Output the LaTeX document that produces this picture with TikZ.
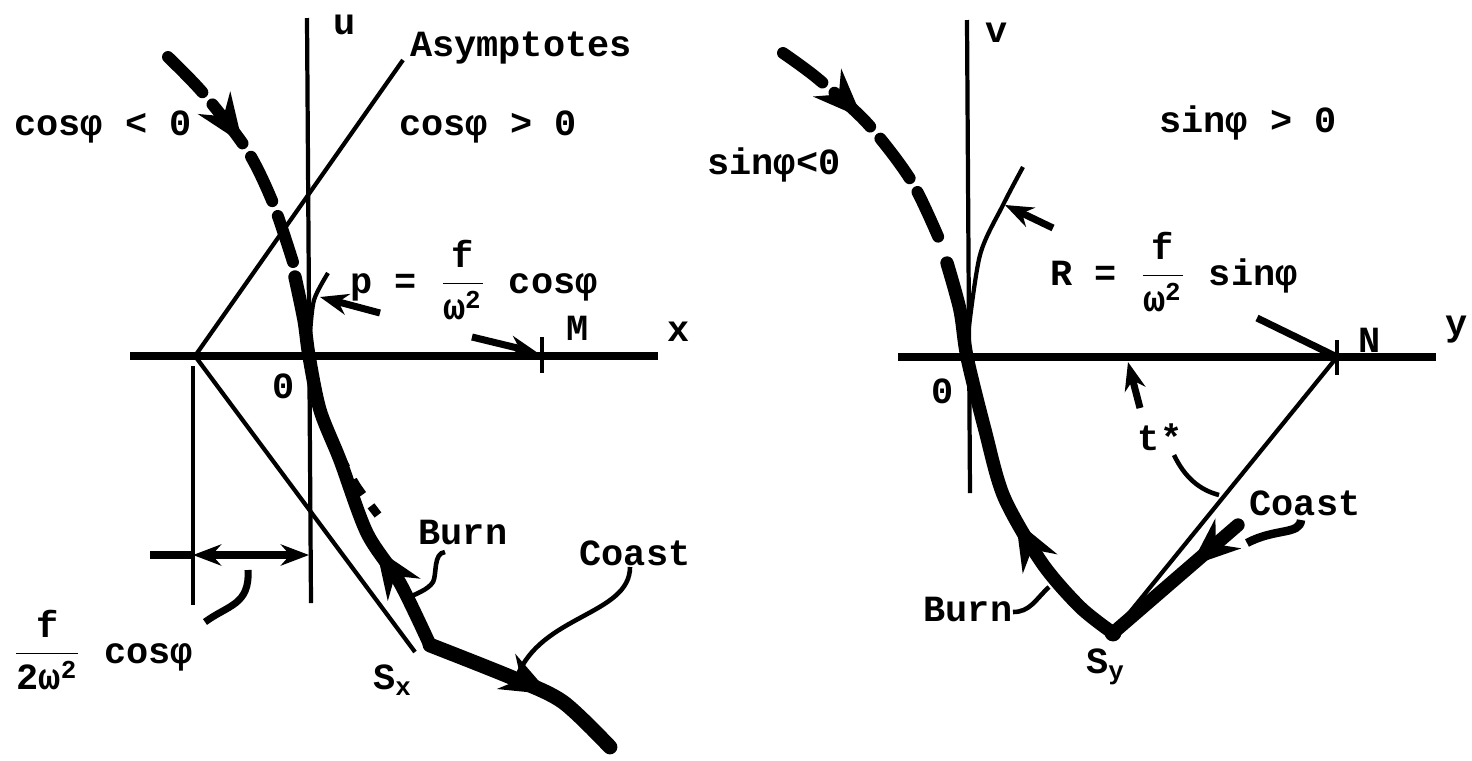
\documentclass[tikz,border=0pt]{standalone}
\usepackage{amsmath,amssymb}
\usepackage{fontspec}
\setmainfont{Liberation Mono}
\usetikzlibrary{arrows.meta,decorations.markings}
\tikzset{
  axis/.style   = {line width=2pt},
  guide/.style  = {line width=1.2pt},
  traj/.style   = {line width=3.8pt, line cap=round},
  dtraj/.style  = {line width=3.4pt, line cap=round, dash pattern=on 14pt off 4.5pt},
  lead/.style   = {line width=1.3pt},
  ptr/.style    = {lead, -{Stealth[length=8pt,width=6pt]}},
  dimarr/.style = {axis, {Stealth[length=8pt,width=6pt]}-{Stealth[length=8pt,width=6pt]}},
  arrowat/.style = {postaction={decorate,decoration={markings,
                    mark=at position #1 with {\arrow{Stealth[length=14pt,width=11pt]}}}}},
  backat/.style  = {postaction={decorate,decoration={markings,
                    mark=at position #1 with {\arrowreversed{Stealth[length=14pt,width=11pt]}}}}},
  lbl/.style    = {font=\bfseries\fontsize{10.5}{12}\selectfont, inner sep=1pt},
}
\newcommand{\phib}{φ}
\newcommand{\omb}{\text{ω}}

\begin{document}
\begin{tikzpicture}[x=0.01cm,y=-0.01cm]
  \useasboundingbox (0,0) rectangle (1472,760);
  % ---- left panel: u against x
  \coordinate (Ox)  at (309,356);
  \coordinate (Ax)  at (195,356);
  \coordinate (Sx)  at (430,645);
  \coordinate (M)   at (542,356);
  \coordinate (Mt)  at (542,337);
  \coordinate (Mb)  at (542,373);
  \coordinate (xL)  at (130,356);
  \coordinate (xR)  at (658,356);
  \coordinate (uT)  at (307,18);
  \coordinate (uB)  at (311,603);
  \coordinate (asU) at (403,60);
  \coordinate (asL) at (415,652);
  \coordinate (dT)  at (193,366);
  \coordinate (dB)  at (193,605);
  \coordinate (d1)  at (150,555);
  \coordinate (d2)  at (193,555);
  \coordinate (d3)  at (309,555);

  \draw[axis] (xL) -- (xR);
  \draw[guide] (uT) -- (uB);
  \draw[guide] (asU) -- (Ax) -- (asL);
  \draw[guide] (dT) -- (dB);
  \draw[guide] (Mt) -- (Mb);
  \draw[axis] (d1) -- (d2);
  \draw[dimarr] (d2) -- (d3);

  % trajectory
  \draw[dtraj,arrowat=0.47] plot[smooth] coordinates {(168,57) (203,93) (247,150) (273,203) (293,262)};
  \draw[traj,backat=0.72] plot[smooth] coordinates {(295,277) (304,320) (Ox) (320,410) (340,460) (367,533) (400,583) (Sx)};
  \draw[traj,line width=4.2pt,arrowat=0.62] plot[smooth] coordinates {(Sx) (513,678) (563,702) (610,747)};
  \draw[guide] plot[smooth] coordinates {(310,335) (314,300) (328,273)};
  \draw[lead,line width=2.4pt,dash pattern=on 5pt off 4pt] plot[smooth] coordinates {(338,452) (356,485) (378,515)};

  % labels
  \node[lbl] (lu)    at (345,25)  {u};
  \node[lbl] (lx)    at (679,332) {x};
  \node[lbl] (lM)    at (578,328) {M};
  \node[lbl] (lOx)   at (284,386) {0};
  \node[lbl] (lasy)  at (521,48)  {Asymptotes};
  \node[lbl] (lneg)  at (103,127) {cos\phib{} < 0};
  \node[lbl] (lpos)  at (488,127) {cos\phib{} > 0};
  \node[lbl,anchor=west] (lp) at (346,280)
    {p = $\dfrac{\textbf{f}}{\omb^{\textbf{2}}}$ cos\phib};
  \node[lbl,anchor=west] (lhalf) at (8,650)
    {$\dfrac{\textbf{f}}{\textbf{2}\omb^{\textbf{2}}}$ cos\phib};
  \node[lbl] (lburn)  at (463,533) {Burn};
  \node[lbl] (lcoast) at (635,553) {Coast};
  \node[lbl] (lSx)    at (393,680) {S$_{\textbf{x}}$};

  % leaders
  \coordinate (pT) at (380,313);  \coordinate (pH) at (320,297);
  \coordinate (mT) at (472,337);  \coordinate (mH) at (538,353);
  \draw[ptr,line width=2pt] (pT) -- (pH);
  \draw[ptr,line width=2pt] (mT) -- (mH);
  \draw[lead,line width=2pt] (248,570) .. controls (250,605) and (228,605) .. (205,622);
  \draw[lead] (445,552) .. controls (433,553) and (437,575) .. (433,582)
                        .. controls (428,590) and (415,594) .. (408,598);
  \draw[lead] (630,567) .. controls (630,615) and (540,615) .. (517,677);

  % ---- right panel: v against y
  \coordinate (Oy)  at (967,357);
  \coordinate (Sy)  at (1113,633);
  \coordinate (N)   at (1337,357);
  \coordinate (Nt)  at (1337,340);
  \coordinate (Nb)  at (1337,375);
  \coordinate (yL)  at (898,357);
  \coordinate (yR)  at (1436,357);
  \coordinate (vT)  at (967,20);
  \coordinate (vB)  at (970,493);
  \coordinate (cy)  at (1238,525);

  \draw[axis] (yL) -- (yR);
  \draw[guide] (vT) -- (vB);
  \draw[guide] (Nt) -- (Nb);
  \draw[guide] (N) -- (Sy);

  % trajectory
  \draw[dtraj,arrowat=0.4] plot[smooth] coordinates {(783,53) (817,78) (867,123) (912,182) (943,248)};
  \draw[traj,backat=0.64] plot[smooth] coordinates {(947,263) (960,310) (Oy) (985,430) (1004,497) (1042,563) (1080,607) (Sy)};
  \draw[traj,arrowat=0.38] (cy) -- (Sy);
  \fill (Sy) circle (2.4pt);
  \draw[guide] plot[smooth] coordinates {(968,335) (980,255) (1003,205) (1023,167)};

  % labels
  \node[lbl] (lv)    at (997,33)   {v};
  \node[lbl] (ly)    at (1457,330) {y};
  \node[lbl] (lN)    at (1370,340) {N};
  \node[lbl] (lOy)   at (943,391)  {0};
  \node[lbl] (lspos) at (1248,123) {sin\phib{} > 0};
  \node[lbl] (lsneg) at (774,165)  {sin\phib<0};
  \node[lbl,anchor=west] (lR) at (1046,272)
    {R = $\dfrac{\textbf{f}}{\omb^{\textbf{2}}}$ sin\phib};
  \node[lbl] (lt)     at (1160,437) {t*};
  \node[lbl] (lcoast2) at (1305,503) {Coast};
  \node[lbl] (lburn2)  at (968,610)  {Burn};
  \node[lbl] (lSy)     at (1106,667) {S$_{\textbf{y}}$};

  % leaders
  \coordinate (rT) at (1053,228); \coordinate (rH) at (1005,205);
  \coordinate (nT) at (1257,318);
  \coordinate (tT) at (1140,408); \coordinate (tH) at (1128,362);
  \draw[ptr,line width=2pt] (rT) -- (rH);
  \draw[lead,line width=2pt] (nT) -- (N);
  \draw[ptr,line width=2pt] (tT) -- (tH);
  \draw[lead] (1174,455) .. controls (1185,478) and (1200,490) .. (1219,495);
  \draw[lead,line width=2.4pt] (1301,520) .. controls (1300,535) and (1275,528) .. (1247,543);
  \draw[lead] (1013,612) .. controls (1030,612) and (1035,600) .. (1049,587);
\end{tikzpicture}
\end{document}
